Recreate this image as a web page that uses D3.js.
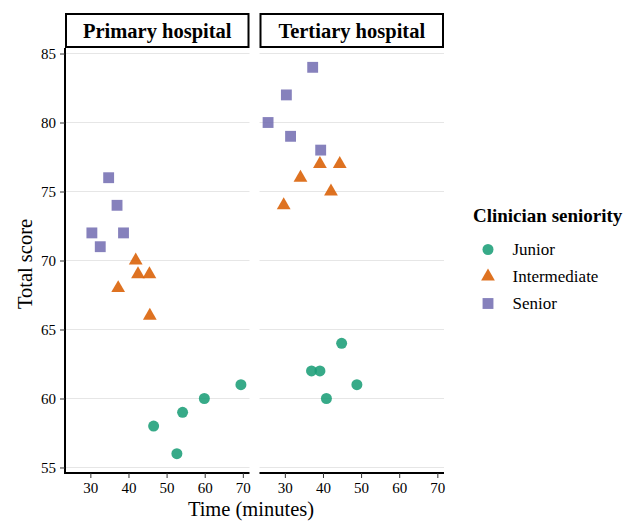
<!DOCTYPE html>
<html>
<head>
<meta charset="utf-8">
<script src="https://cdn.jsdelivr.net/npm/d3@7"></script>
<style>
  body { margin: 0; background: #fff; }
  text { font-family: "Liberation Serif", "Times New Roman", serif; fill: #000; }
</style>
</head>
<body>
<div id="chart"></div>
<script>
// facets, groups, ticks
var hospitals = ["Primary hospital", "Tertiary hospital"];
var seniority = ["Junior", "Intermediate", "Senior"];
var xTicks = [30, 40, 50, 60, 70];
var yTicks = [55, 60, 65, 70, 75, 80, 85];

// [time (minutes), total score]
var primaryJunior = [[46.6, 58], [52.7, 56], [54.2, 59], [59.9, 60], [69.5, 61]];
var primaryIntermediate = [[37.3, 68], [41.9, 70], [42.5, 69], [45.5, 69], [45.6, 66]];
var primarySenior = [[30.4, 72], [32.6, 71], [34.8, 76], [37.0, 74], [38.7, 72]];
var tertiaryJunior = [[37.0, 62], [39.2, 62], [40.9, 60], [44.9, 64], [48.9, 61]];
var tertiaryIntermediate = [[29.7, 74], [34.1, 76], [39.2, 77], [42.1, 75], [44.4, 77]];
var tertiarySenior = [[25.6, 80], [30.4, 82], [31.5, 79], [37.3, 84], [39.4, 78]];

var series = [
  { hospital: hospitals[0], group: "Junior", pts: primaryJunior },
  { hospital: hospitals[0], group: "Intermediate", pts: primaryIntermediate },
  { hospital: hospitals[0], group: "Senior", pts: primarySenior },
  { hospital: hospitals[1], group: "Junior", pts: tertiaryJunior },
  { hospital: hospitals[1], group: "Intermediate", pts: tertiaryIntermediate },
  { hospital: hospitals[1], group: "Senior", pts: tertiarySenior }
];

var width = 624, height = 523;
var panelW = 184.5, panelGap = 10, plotLeft = 65, plotTop = 48, plotBottom = 473;

var color = d3.scaleOrdinal().domain(seniority).range(["#1B9E77", "#D95F02", "#7570B3"]);
var shape = d3.scaleOrdinal().domain(seniority).range([d3.symbolCircle, d3.symbolTriangle, d3.symbolSquare]);
var size = d3.scaleOrdinal().domain(seniority).range([95, 82, 118]);

var x = d3.scaleLinear().domain([23.35, 71.75]).range([0, panelW]);
var y = d3.scaleLinear().domain([54.6, 85.4]).range([plotBottom, plotTop]);
var fx = d3.scaleBand().domain(hospitals).range([plotLeft, plotLeft + 2 * panelW + panelGap]).paddingInner(panelGap / (panelW + panelGap));

var svg = d3.select("#chart").append("svg")
  .attr("width", width)
  .attr("height", height);

hospitals.forEach(function(h, i) {
  var g = svg.append("g").attr("transform", "translate(" + fx(h) + ",0)");

  // grid
  g.selectAll(".grid").data(yTicks).enter().append("line")
    .attr("x1", 0).attr("x2", panelW)
    .attr("y1", d => y(d)).attr("y2", d => y(d))
    .attr("stroke", "#e6e6e6").attr("stroke-width", 1);

  // strip
  g.append("rect")
    .attr("x", 1).attr("y", 14).attr("width", panelW - 2).attr("height", 33)
    .attr("fill", "#fff").attr("stroke", "#000").attr("stroke-width", 2);
  g.append("text")
    .attr("x", panelW / 2).attr("y", 38)
    .attr("text-anchor", "middle")
    .style("font-size", "20.5px").style("font-weight", "bold")
    .text(h);

  // x axis
  var xa = g.append("g").attr("transform", "translate(0," + plotBottom + ")")
    .call(d3.axisBottom(x).tickValues(xTicks).tickSize(5).tickPadding(4));
  xa.select(".domain").attr("stroke", "#000").attr("stroke-width", 2).attr("d", "M0,0H" + panelW);
  xa.selectAll(".tick line").attr("stroke", "#333");
  xa.selectAll("text").style("font-size", "15px").attr("fill", "#222");

  if (i === 0) {
    var ya = g.append("g")
      .call(d3.axisLeft(y).tickValues(yTicks).tickSize(5).tickPadding(4));
    ya.select(".domain").attr("stroke", "#000").attr("stroke-width", 2).attr("d", "M0," + plotTop + "V" + (plotBottom + 1));
    ya.selectAll(".tick line").attr("stroke", "#333");
    ya.selectAll("text").style("font-size", "15px").attr("fill", "#222");
  }

  // points
  series.filter(s => s.hospital === h).forEach(function(s) {
    g.selectAll(null).data(s.pts).enter().append("path")
      .attr("transform", d => "translate(" + x(d[0]) + "," + y(d[1]) + ")")
      .attr("d", d3.symbol().type(shape(s.group)).size(size(s.group)))
      .attr("fill", color(s.group))
      .attr("fill-opacity", 0.88);
  });
});

// axis titles
svg.append("text")
  .attr("x", 251).attr("y", 516)
  .attr("text-anchor", "middle")
  .style("font-size", "20.5px")
  .text("Time (minutes)");

svg.append("text")
  .attr("transform", "translate(32,264) rotate(-90)")
  .attr("text-anchor", "middle")
  .style("font-size", "20.5px")
  .text("Total score");

// legend
var lg = svg.append("g").attr("transform", "translate(473,0)");
lg.append("text")
  .attr("x", 0).attr("y", 222)
  .style("font-size", "19px").style("font-weight", "bold")
  .text("Clinician seniority");
seniority.forEach(function(k, i) {
  var cy = 249.5 + i * 27;
  lg.append("path")
    .attr("transform", "translate(15," + cy + ")")
    .attr("d", d3.symbol().type(shape(k)).size(size(k)))
    .attr("fill", color(k))
    .attr("fill-opacity", 0.88);
  lg.append("text")
    .attr("x", 39.5).attr("y", cy + 5.5)
    .style("font-size", "17px")
    .text(k);
});
</script>
</body>
</html>
